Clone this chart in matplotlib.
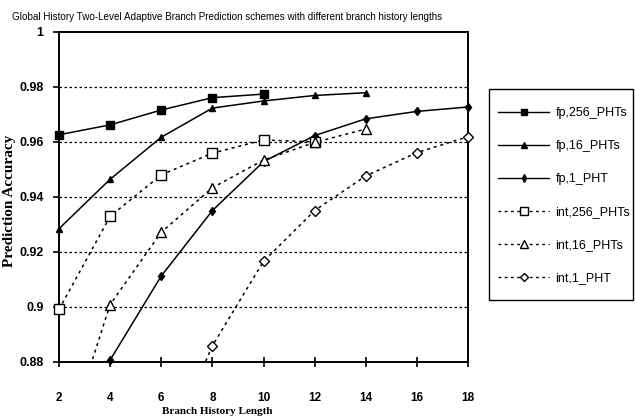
import matplotlib
matplotlib.use("Agg")
import matplotlib.pyplot as plt
from matplotlib.lines import Line2D
from matplotlib.patches import Rectangle

# branch history length on the x axis, prediction accuracy per scheme
fp_256_x = [2, 4, 6, 8, 10]
fp_256_y = [0.9626, 0.9662, 0.9716, 0.9761, 0.9774]

fp_16_x = [2, 4, 6, 8, 10, 12, 14]
fp_16_y = [0.9284, 0.9464, 0.9617, 0.9723, 0.9749, 0.9769, 0.9779]

fp_1_x = [4, 6, 8, 10, 12, 14, 16, 18]
fp_1_y = [0.8806, 0.9112, 0.9350, 0.9528, 0.9623, 0.9684, 0.9711, 0.9727]

int_256_x = [2, 4, 6, 8, 10, 12]
int_256_y = [0.8990, 0.9329, 0.9480, 0.9559, 0.9607, 0.9600]

int_16_x = [2, 4, 6, 8, 10, 12, 14]
int_16_y = [0.8430, 0.9008, 0.9271, 0.9433, 0.9534, 0.9598, 0.9647]

int_1_x = [6, 8, 10, 12, 14, 16, 18]
int_1_y = [0.8428, 0.8858, 0.9165, 0.9350, 0.9476, 0.9561, 0.9619]

x_ticks = [2, 4, 6, 8, 10, 12, 14, 16, 18]
y_ticks = [0.88, 0.9, 0.92, 0.94, 0.96, 0.98, 1.0]
y_tick_labels = ["0.88", "0.9", "0.92", "0.94", "0.96", "0.98", "1"]

TITLE = "Global History Two-Level Adaptive Branch Prediction schemes with different branch history lengths"
SANS = ["Liberation Sans", "DejaVu Sans"]
SERIF = ["Liberation Serif", "DejaVu Serif"]

W, H = 635, 417
fig = plt.figure(figsize=(W / 100, H / 100), dpi=100)
ax = fig.add_axes([59 / W, 1 - 361.7 / H, (468 - 59) / W, (361.7 - 32) / H])

series = [
    ("fp,256_PHTs", fp_256_x, fp_256_y, "-", "s", "black", 5.5),
    ("fp,16_PHTs", fp_16_x, fp_16_y, "-", "^", "black", 5),
    ("fp,1_PHT", fp_1_x, fp_1_y, "-", "d", "black", 4.5),
    ("int,256_PHTs", int_256_x, int_256_y, (0, (2, 2.5)), "s", "white", 7),
    ("int,16_PHTs", int_16_x, int_16_y, (0, (2, 2.5)), "^", "white", 7),
    ("int,1_PHT", int_1_x, int_1_y, (0, (2, 2.5)), "D", "white", 5),
]

ymin, ymax = 0.88, 1.0
handles = []
for label, xs, ys, ls, mk, face, ms in series:
    ax.plot(xs, ys, color="black", linestyle=ls, linewidth=1.1)
    # markers are drawn unclipped so those sitting on the frame stay whole
    vis = [(x, y) for x, y in zip(xs, ys) if ymin <= y <= ymax]
    ax.plot([p[0] for p in vis], [p[1] for p in vis], linestyle="none",
            marker=mk, markersize=ms, markerfacecolor=face,
            markeredgecolor="black", markeredgewidth=1.0, clip_on=False, zorder=4)
    handles.append(Line2D([], [], color="black", linestyle=ls, linewidth=1.0,
                          marker=mk, markersize=ms * 0.85, markerfacecolor=face,
                          markeredgecolor="black", label=label))

ax.set_xlim(2, 18)
ax.set_ylim(ymin, ymax)
ax.set_xticks(x_ticks)
ax.set_yticks(y_ticks)
ax.set_yticklabels(y_tick_labels)
for v in y_ticks[1:-1]:
    ax.axhline(v, color="black", linestyle=(0, (2, 2)), linewidth=0.9, zorder=1)

for s in ax.spines.values():
    s.set_linewidth(1.4)
ax.tick_params(axis="x", direction="inout", length=7, width=1.2, pad=18)
ax.tick_params(axis="y", direction="out", length=4, width=1.2, pad=7)
for t in ax.get_xticklabels():
    t.set_family(SANS)
    t.set_fontweight("bold")
    t.set_fontsize(8.5)
for t in ax.get_yticklabels():
    t.set_family(SANS)
    t.set_fontweight("bold")
    t.set_fontsize(9)

fig.text(12 / W, 1 - 17 / H, TITLE, family=SANS, fontsize=7.1,
         ha="left", va="center")
fig.text(217 / W, 1 - 411 / H, "Branch History Length", family=SERIF,
         fontweight="bold", fontsize=8, ha="center", va="center")
fig.text(10 / W, 1 - 201 / H, "Prediction Accuracy", family=SERIF,
         fontweight="bold", fontsize=11, ha="center", va="center", rotation=90)

# legend entries without their own frame; the box is drawn separately
fig.legend(handles=handles, loc="upper left",
           bbox_to_anchor=(498 / W, 1 - 107 / H), borderaxespad=0,
           borderpad=0, frameon=False, handlelength=4.1, handletextpad=0.5,
           labelspacing=1.68, prop={"family": SANS, "size": 9})
fig.add_artist(Rectangle((489 / W, 1 - 300 / H), (633 - 489) / W, (300 - 89) / H,
                         transform=fig.transFigure, fill=False,
                         edgecolor="black", linewidth=1.0))

fig.savefig("out.png", dpi=100)
